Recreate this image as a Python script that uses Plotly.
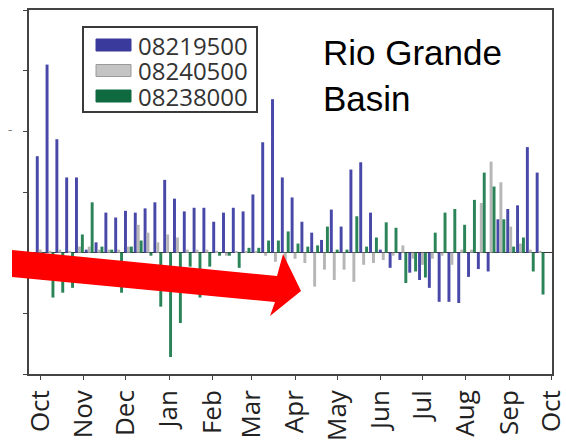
import plotly.graph_objects as go

# ---------------- data ----------------
week_day = [i * 7 for i in range(52)]  # days since Oct 1

series_names = ["08219500", "08240500", "08238000"]

blue_vals = [1.59, 3.1, 1.87, 1.24, 1.24, 0.05, 0.17, 0.66, 0.58, 0.69,
             0.66, 0.73, 0.83, 1.2, 0.89, 0.68, 0.74, 0.74, 0.51, 0.66,
             0.74, 0.68, 0.96, 1.82, 2.53, 1.24, 0.91, 0.51, 0.33, 0.21,
             0.71, 0.43, 1.37, 1.49, 0.66, 0.05, -0.25, -0.12, -0.33, -0.45,
             -0.58, -0.81, -0.81, -0.83, -0.4, -0.27, -0.31, 0.55, 0.72, 0.78,
             1.74, 1.32]

gray_vals = [0.05, 0.03, 0.05, 0.03, 0.1, 0.1, 0.05, 0.05, 0.05, 0.1,
             0.46, 0.33, 0.17, 0.3, 0.25, 0.05, 0.05, 0.05, 0.03, -0.05,
             0.02, 0.02, 0.03, -0.05, -0.15, -0.15, -0.1, -0.17, -0.56, -0.28,
             -0.45, -0.28, -0.48, -0.2, -0.17, -0.12, -0.05, 0.12, -0.1, -0.2,
             -0.1, -0.05, -0.2, 0.05, 0.05, 0.82, 1.5, 1.16, 0.43, 0.15,
             0.05, 0.02]

green_vals = [-0.45, -0.74, -0.66, -0.58, 0.3, 0.83, 0.1, 0.05, -0.66, 0.1,
              0.2, -0.05, -0.89, -1.72, -1.16, -0.23, -0.74, -0.23, -0.05, -0.05,
              -0.25, 0.08, 0.08, 0.2, 0.2, 0.35, 0.15, 0.1, 0.12, 0.43,
              0.05, 0.05, 0.6, 0.1, 0.25, 0.5, 0.41, -0.5, -0.31, -0.41,
              0.33, 0.66, 0.72, 0.46, 0.87, 1.32, 1.09, 0.55, 0.1, 0.25,
              -0.31, -0.69]

month_ticks = [0, 31, 61, 92, 123, 151, 182, 212, 243, 273, 304, 335, 365]
month_labels = ["Oct", "Nov", "Dec", "Jan", "Feb", "Mar", "Apr", "May",
                "Jun", "Jul", "Aug", "Sep", "Oct"]

colors = ["#4848a8", "#b6b6b6", "#2a8458"]
legend_colors = ["#3a3a9c", "#c4c4c4", "#0f6a40"]

# ---------------- figure ----------------
W, H = 566, 442
ML, MR, MT, MB = 29, 14, 10, 68
PW, PH = W - ML - MR, H - MT - MB

def px(x):
    return (x - ML) / PW

def py(y):
    return (H - MB - y) / PH

fig = go.Figure()
for name, vals, col in zip(series_names, [blue_vals, gray_vals, green_vals], colors):
    fig.add_trace(go.Bar(x=week_day, y=vals, name=name,
                         marker=dict(color=col, line=dict(width=0)),
                         showlegend=False))

shapes = []
# manual legend box
shapes.append(dict(type="rect", xref="paper", yref="paper",
                   x0=px(83), x1=px(257), y0=py(112), y1=py(27),
                   line=dict(color="#3a3a3a", width=2), fillcolor="white",
                   layer="above"))
annotations = []
for k, (name, col) in enumerate(zip(series_names, legend_colors)):
    cy = 45 + k * 25.5
    shapes.append(dict(type="rect", xref="paper", yref="paper",
                       x0=px(96), x1=px(131), y0=py(cy + 6), y1=py(cy - 6),
                       line=dict(color="#9a9a9a" if k == 1 else col, width=1),
                       fillcolor=col, layer="above"))
    annotations.append(dict(xref="paper", yref="paper", x=px(136), y=py(cy),
                            xanchor="left", yanchor="middle", showarrow=False,
                            text=name, height=24, valign="middle",
                            font=dict(family="Open Sans", size=24, color="#333333")))

# red arrow
pts = [(12, 250), (277, 276), (283, 254), (301, 291), (270, 316), (275, 302), (12, 277)]
path = "M " + " L ".join(f"{px(a):.4f},{py(b):.4f}" for a, b in pts) + " Z"
shapes.append(dict(type="path", xref="paper", yref="paper", path=path,
                   fillcolor="#ff0000", line=dict(width=0), layer="above"))

annotations.append(dict(xref="paper", yref="paper", x=px(321), y=py(31),
                        xanchor="left", yanchor="top", showarrow=False, align="left",
                        text="Rio Grande<br>Basin",
                        font=dict(family="Liberation Sans", size=35, color="black")))
annotations.append(dict(xref="paper", yref="paper", x=px(10), y=py(130),
                        xanchor="center", yanchor="middle", showarrow=False,
                        text="-", font=dict(family="DejaVu Sans", size=12, color="#777777")))

fig.update_layout(
    width=W, height=H,
    margin=dict(l=ML, r=MR, t=MT, b=MB, autoexpand=False),
    paper_bgcolor="white", plot_bgcolor="white",
    barmode="group", bargap=0.1, bargroupgap=0.0,
    shapes=shapes, annotations=annotations,
    showlegend=False,
)
fig.update_xaxes(range=[-8, 365.5], tickmode="array", tickvals=month_ticks,
                 ticktext=month_labels, tickangle=-90, ticks="outside", ticklen=4,
                 tickcolor="#444444", showline=True, linecolor="#444444", linewidth=1.5,
                 mirror=True, showgrid=False, zeroline=False, automargin=False,
                 ticklabeloverflow="allow", ticklabelstandoff=0,
                 tickfont=dict(family="Open Sans", size=26, color="#222222"))
fig.update_yaxes(range=[-2, 4], tickmode="array", tickvals=[-2, -1, 0, 1, 2, 3, 4],
                 showticklabels=False, ticks="outside", ticklen=4, tickcolor="#444444",
                 showline=True, linecolor="#444444", linewidth=1.5, mirror=True,
                 automargin=False,
                 showgrid=False, zeroline=True, zerolinecolor="#333333", zerolinewidth=1)

fig.write_html("out.html")
